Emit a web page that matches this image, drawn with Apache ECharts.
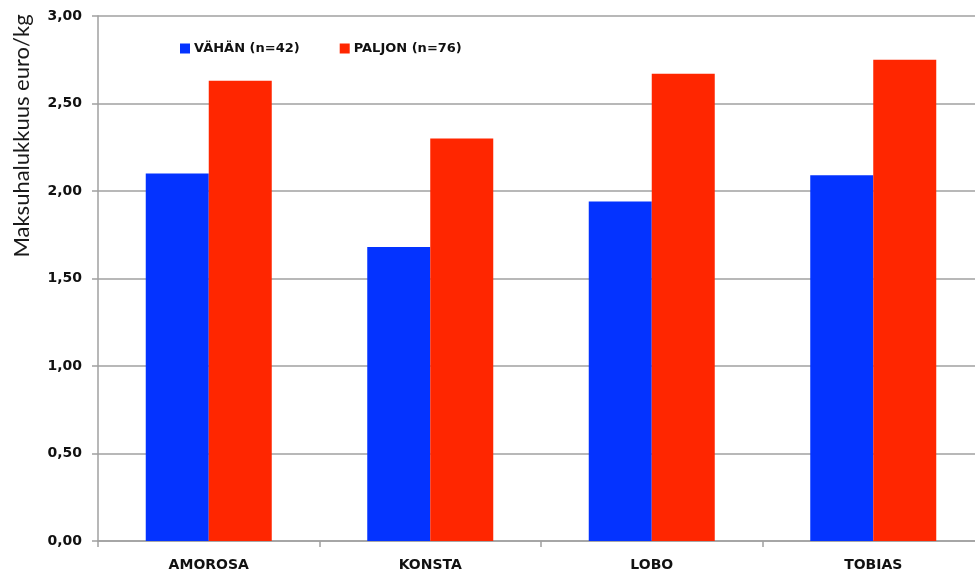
<!DOCTYPE html>
<html>
<head>
<meta charset="utf-8">
<script src="https://cdn.jsdelivr.net/npm/echarts@6/dist/echarts.min.js"></script>
<style>html,body{margin:0;padding:0;background:#fff;}#c{width:975px;height:574px;}</style>
</head>
<body>
<div id="c"></div>
<script>
const categories = ['AMOROSA', 'KONSTA', 'LOBO', 'TOBIAS'];
const seriesNames = ['VÄHÄN (n=42)', 'PALJON (n=76)'];
const vahan = [2.10, 1.68, 1.94, 2.09];
const paljon = [2.63, 2.30, 2.67, 2.75];
const yAxisTitle = 'Maksuhalukkuus euro/kg';

const FONT = 'Lato, "Open Sans", sans-serif';
const BFONT = '"DejaVu Sans", "Open Sans", sans-serif';
const chart = echarts.init(document.getElementById('c'), null, {renderer: 'canvas'});
chart.setOption({
  animation: false,
  backgroundColor: '#ffffff',
  graphic: [{
    type: 'text',
    x: 22, y: 136,
    rotation: Math.PI / 2,
    style: {
      text: yAxisTitle,
      font: '22px ' + FONT,
      fill: '#1a1a1a',
      textAlign: 'center',
      textVerticalAlign: 'middle'
    }
  }],
  legend: {
    left: 175, top: 37,
    itemWidth: 10, itemHeight: 10,
    itemGap: 40,
    icon: 'rect',
    textStyle: {fontFamily: BFONT, fontWeight: 'bold', fontSize: 13, color: '#111', padding: [0, 0, 0, -1]},
    data: seriesNames
  },
  grid: {left: 98, width: 886, top: 16, bottom: 33, containLabel: false, outerBoundsMode: 'none'},
  xAxis: {
    type: 'category',
    data: categories,
    axisLine: {lineStyle: {color: '#a0a0a0', width: 1.5}},
    axisTick: {show: true, length: 6, lineStyle: {color: '#a0a0a0', width: 1.5}},
    axisLabel: {fontFamily: BFONT, fontWeight: 'bold', fontSize: 14, color: '#111', margin: 17}
  },
  yAxis: {
    type: 'value',
    min: 0, max: 3, interval: 0.5,
    axisLine: {show: true, lineStyle: {color: '#a0a0a0', width: 1.5}},
    axisTick: {show: true, length: 6, lineStyle: {color: '#a0a0a0', width: 1.5}},
    splitLine: {lineStyle: {color: '#a0a0a0', width: 1.5}},
    axisLabel: {
      fontFamily: BFONT, fontWeight: 'bold', fontSize: 14, color: '#111', margin: 16,
      formatter: v => v.toFixed(2).replace('.', ',')
    }
  },
  series: [
    {name: seriesNames[0], type: 'bar', data: vahan, barWidth: 63, barGap: '0%',
     itemStyle: {color: '#0433ff'}},
    {name: seriesNames[1], type: 'bar', data: paljon, barWidth: 63, barGap: '0%',
     itemStyle: {color: '#ff2600'}}
  ]
});
</script>
</body>
</html>
